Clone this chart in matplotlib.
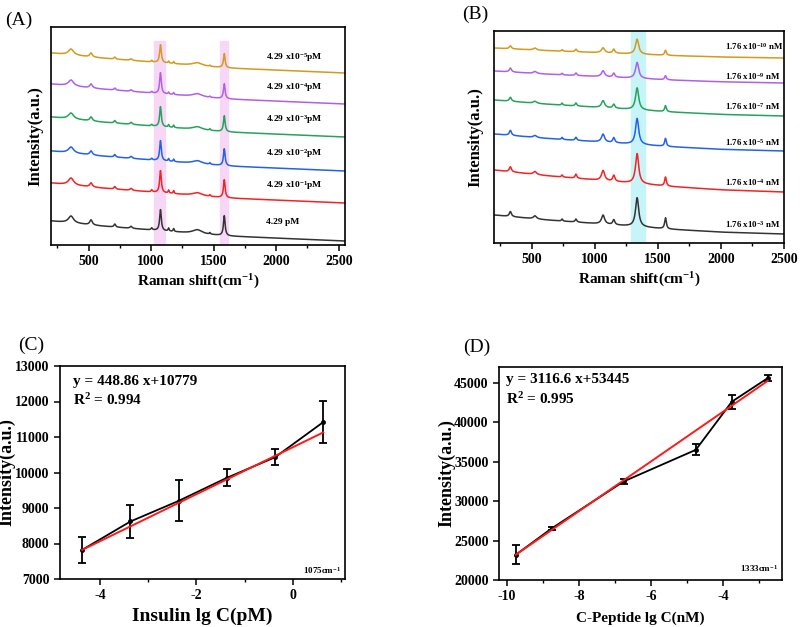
import numpy as np
import matplotlib
matplotlib.use("Agg")
import matplotlib.pyplot as plt
from matplotlib.ticker import MultipleLocator

plt.rcParams['font.family'] = ['Liberation Serif', 'DejaVu Serif']
plt.rcParams['font.weight'] = 'bold'
plt.rcParams['axes.labelweight'] = 'bold'
plt.rcParams['axes.unicode_minus'] = False
plt.rcParams['mathtext.fontset'] = 'custom'
plt.rcParams['mathtext.rm'] = 'Liberation Serif:bold'
plt.rcParams['mathtext.it'] = 'Liberation Serif:bold'
plt.rcParams['mathtext.bf'] = 'Liberation Serif:bold'

colors = ['#333333', '#f42222', '#2262e6', '#25a35a', '#b060e8', '#d49a1c']

# ---- panel A: insulin spectra (peak list) ----
a_labels = ['4.29 pM', '4.29 x10$^{-1}$pM', '4.29 x10$^{-2}$pM',
            '4.29 x10$^{-3}$pM', '4.29 x10$^{-4}$pM', '4.29 x10$^{-5}$pM']
a_offsets = [24, 62, 94, 128, 161, 192]
a_label_y = [23, 60, 92, 126, 157, 188]
a_centers = [360, 520, 710, 840, 1005, 1075, 1140, 1180, 1370, 1470, 1585]
a_widths = [25, 12, 8, 10, 6, 8, 5, 5, 45, 5, 8]
a_heights = [
    [7, 5, 3, 2, 2, 21, 3, 3, 4, 1.5, 20],
    [7, 4, 2.5, 2, 2, 22, 3, 3, 3, 1.5, 18],
    [6, 4, 2.5, 2, 1.5, 20, 2.5, 2.5, 3, 1.5, 17],
    [6, 4, 2.5, 2, 1.5, 20, 2.5, 2.5, 3, 1.5, 16],
    [6, 4, 2, 1.5, 1.5, 21, 2, 2, 3, 1, 15],
    [6, 4, 2, 1.5, 1.5, 18, 2, 2, 3, 1, 14],
]
a_base_x = [200, 600, 1000, 1600, 2550]
a_base_drop = [0, -5, -9, -15, -20]

# ---- panel B: C-peptide spectra ----
b_labels = ['1.76 x10$^{-3}$ nM', '1.76 x10$^{-4}$ nM', '1.76 x10$^{-5}$ nM',
            '1.76 x10$^{-7}$ nM', '1.76 x10$^{-9}$ nM', '1.76 x10$^{-10}$ nM']
b_offsets = [28, 73, 109, 143, 172, 195]
b_label_y = [19, 60, 101, 136, 167, 196]
b_centers = [330, 525, 740, 850, 1065, 1150, 1335, 1560]
b_widths = [10, 15, 6, 8, 15, 10, 15, 8]
b_heights = [
    [5, 3, 2, 3, 9, 5, 29, 11],
    [5, 3, 2, 4, 10, 6, 30, 9],
    [5, 2, 2, 3, 8, 5, 26, 8],
    [4, 2, 2, 3, 7, 4, 22, 6],
    [4, 2, 1.5, 2.5, 6, 4, 16, 4],
    [3, 2, 1.5, 2.5, 5, 4, 15, 5],
]
b_drops = [19, 22, 17, 16, 12, 10]
b_base_x = [200, 600, 1000, 1600, 2000, 2500]
b_base_frac = [0, 0.25, 0.45, 0.75, 0.9, 1.0]

# ---- panel C: insulin calibration ----
c_x = [-4.37, -3.37, -2.37, -1.37, -0.37, 0.63]
c_y = [7820, 8620, 9200, 9850, 10430, 11420]
c_err = [360, 470, 580, 240, 230, 590]
c_fit_x = [-4.37, 0.63]
c_fit_y = [7820, 11130]

# ---- panel D: C-peptide calibration ----
d_x = [-9.754, -8.754, -6.754, -4.754, -3.754, -2.754]
d_y = [23200, 26550, 32500, 36500, 42600, 45600]
d_err = [1200, 150, 300, 700, 900, 400]
d_fit_x = [-9.754, -2.754]
d_fit_y = [23200, 45250]


def spectrum(x, centers, widths, heights):
    s = np.zeros_like(x)
    for c, w, h in zip(centers, widths, heights):
        s += h * w**2 / ((x - c)**2 + w**2)
    return s


fig = plt.figure(figsize=(8, 6.27), dpi=100)
W, H = 800, 627


def px_axes(l, t, r, b):
    return fig.add_axes([l / W, 1 - b / H, (r - l) / W, (b - t) / H])


def style(ax):
    for sp in ax.spines.values():
        sp.set_linewidth(1.2)
    ax.tick_params(direction='out', width=1.1, length=4, labelsize=10)
    ax.tick_params(which='minor', direction='out', width=1, length=2.5)
    ax.tick_params(top=False, right=False)


# panel A
axA = px_axes(51, 27, 345, 245)
xs = np.linspace(200, 2550, 2400)
for i in range(6):
    base = a_offsets[i] + np.interp(xs, a_base_x, a_base_drop)
    axA.plot(xs, base + spectrum(xs, a_centers, a_widths, a_heights[i]),
             color=colors[i], lw=1.1)
    axA.text(1915, a_label_y[i], a_labels[i], fontsize=6.8, va='center', ha='left')
axA.axvspan(1020, 1110, ymax=0.935, color='#f6d8f6', zorder=0)
axA.axvspan(1552, 1615, ymax=0.935, color='#f6d8f6', zorder=0)
axA.set_xlim(200, 2550)
axA.set_ylim(0, 218)
axA.set_yticks([])
axA.xaxis.set_major_locator(MultipleLocator(500))
axA.xaxis.set_minor_locator(MultipleLocator(250))
axA.set_xlabel('Raman shift(cm$^{-1}$)', fontsize=11, labelpad=3)
axA.set_ylabel('Intensity(a.u.)', fontsize=12)
axA.yaxis.set_label_coords(-0.025, 0.5)
style(axA)
fig.text(5 / W, 1 - 20 / H, '(A)', fontsize=14, fontweight='normal', va='center')

# panel B
axB = px_axes(494, 31, 784, 243)
xs = np.linspace(200, 2500, 2400)
for i in range(6):
    base = b_offsets[i] - b_drops[i] * np.interp(xs, b_base_x, b_base_frac)
    axB.plot(xs, base + spectrum(xs, b_centers, b_widths, b_heights[i]),
             color=colors[i], lw=1.1)
    axB.text(2035, b_label_y[i], b_labels[i], fontsize=6.4, va='center', ha='left')
axB.axvspan(1290, 1395, color='#c6f4f8', zorder=0)
axB.set_xlim(200, 2500)
axB.set_ylim(0, 212)
axB.set_yticks([])
axB.xaxis.set_major_locator(MultipleLocator(500))
axB.xaxis.set_minor_locator(MultipleLocator(250))
axB.set_xlabel('Raman shift(cm$^{-1}$)', fontsize=11, labelpad=3)
axB.set_ylabel('Intensity(a.u.)', fontsize=12)
axB.yaxis.set_label_coords(-0.035, 0.5)
style(axB)
fig.text(462 / W, 1 - 14 / H, '(B)', fontsize=14, fontweight='normal', va='center')

# panel C
axC = px_axes(60, 366, 345, 579)
axC.errorbar(c_x, c_y, yerr=c_err, color='black', lw=1.3, capsize=3,
             elinewidth=1.3, capthick=1.3, marker='o', ms=2.5)
axC.plot(c_fit_x, c_fit_y, color='#ff1a1a', lw=1.4, zorder=3)
axC.set_xlim(-4.83, 1.08)
axC.set_ylim(7000, 13000)
axC.xaxis.set_major_locator(MultipleLocator(2))
axC.xaxis.set_minor_locator(MultipleLocator(1))
axC.yaxis.set_major_locator(MultipleLocator(1000))
axC.set_xlabel('Insulin lg C(pM)', fontsize=14, labelpad=4)
axC.set_ylabel('Intensity(a.u.)', fontsize=13)
axC.yaxis.set_label_coords(-0.155, 0.5)
axC.text(0.045, 0.925, 'y = 448.86 x+10779', transform=axC.transAxes,
         fontsize=11, va='center')
axC.text(0.045, 0.84, 'R$^2$ = 0.994', transform=axC.transAxes,
         fontsize=11, va='center')
axC.text(0.985, 0.04, '1075cm$^{-1}$', transform=axC.transAxes,
         fontsize=6.5, ha='right', va='center')
style(axC)
fig.text(18 / W, 1 - 345 / H, '(C)', fontsize=14, fontweight='normal', va='center')

# panel D
axD = px_axes(499, 367, 782, 580)
axD.errorbar(d_x, d_y, yerr=d_err, color='black', lw=1.3, capsize=3,
             elinewidth=1.3, capthick=1.3, marker='o', ms=2.5)
axD.plot(d_fit_x, d_fit_y, color='#ff1a1a', lw=1.4, zorder=3)
axD.set_xlim(-10.22, -2.36)
axD.set_ylim(20000, 47000)
axD.xaxis.set_major_locator(MultipleLocator(2))
axD.xaxis.set_minor_locator(MultipleLocator(1))
axD.yaxis.set_major_locator(MultipleLocator(5000))
axD.set_xlabel('C-Peptide lg C(nM)', fontsize=11, labelpad=6)
axD.set_ylabel('Intensity(a.u.)', fontsize=13)
axD.yaxis.set_label_coords(-0.155, 0.5)
axD.text(0.025, 0.94, 'y = 3116.6 x+53445', transform=axD.transAxes,
         fontsize=11, va='center')
axD.text(0.025, 0.85, 'R$^2$ = 0.995', transform=axD.transAxes,
         fontsize=11, va='center')
axD.text(0.985, 0.055, '1333cm$^{-1}$', transform=axD.transAxes,
         fontsize=6.5, ha='right', va='center')
style(axD)
fig.text(463 / W, 1 - 347 / H, '(D)', fontsize=14, fontweight='normal', va='center')

fig.savefig('out.png', dpi=100)
